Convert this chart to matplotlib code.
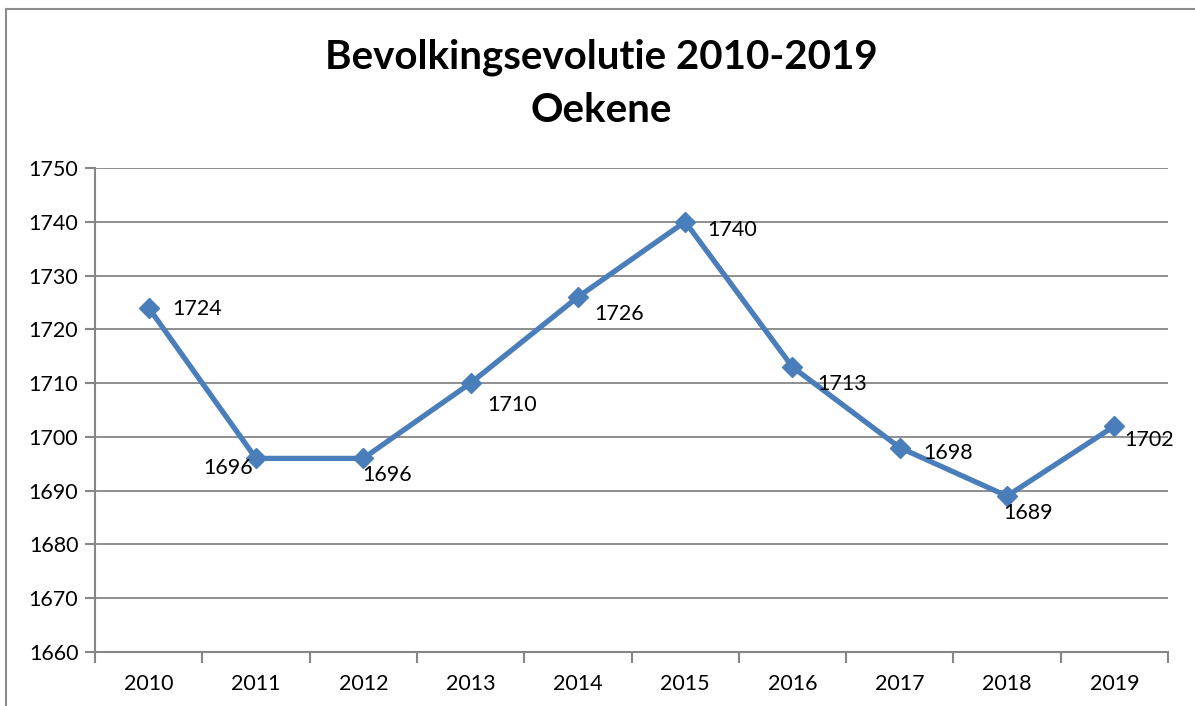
import matplotlib
matplotlib.use("Agg")
from matplotlib import pyplot as plt
from matplotlib.lines import Line2D

years = ['2010', '2011', '2012', '2013', '2014', '2015', '2016', '2017', '2018', '2019']
population = [1724, 1696, 1696, 1710, 1726, 1740, 1713, 1698, 1689, 1702]
y_ticks = [1660, 1670, 1680, 1690, 1700, 1710, 1720, 1730, 1740, 1750]

# label offsets in points (hand-placed like the original)
label_offsets = [(35, -1), (-20, -7), (17, -12), (30, -16), (30, -12), (34, -6),
                 (36, -12), (35, -4), (15, -12), (25, -10)]

plt.rcParams['font.family'] = ['Lato', 'DejaVu Sans']

fig = plt.figure(figsize=(11.95, 7.06), dpi=100)
ax = fig.add_axes([95 / 1195, 1 - 652 / 706, (1168 - 95) / 1195, (652 - 168) / 706])

x = list(range(len(years)))
ax.plot(x, population, color='#4a7ebb', linewidth=3.8, marker='D', markersize=10,
        markerfacecolor='#4a7ebb', markeredgecolor='#4a7ebb', zorder=3)

for xi, val, off in zip(x, population, label_offsets):
    ax.annotate(str(val), (xi, val), xytext=off, textcoords='offset points',
                ha='center', va='center', fontsize=15.5, color='black')

ax.set_xlim(-0.5, len(years) - 0.5)
ax.set_ylim(1660, 1750)
ax.set_yticks(y_ticks)
ax.set_yticklabels([str(t) for t in y_ticks])
ax.set_xticks([i - 0.5 for i in range(len(years) + 1)])
ax.set_xticklabels([])
ax.set_xticks(x, minor=True)
ax.set_xticklabels(years, minor=True)
ax.tick_params(axis='x', which='minor', length=0, pad=16, labelsize=15.5)
ax.tick_params(axis='x', which='major', length=8, color='#868686', width=1.5)
ax.tick_params(axis='y', length=7, color='#868686', width=1.5, pad=5, labelsize=15.5)

ax.grid(axis='y', color='#868686', linewidth=1.3)
ax.set_axisbelow(True)
for side in ['top', 'right']:
    ax.spines[side].set_visible(False)
for side in ['left', 'bottom']:
    ax.spines[side].set_color('#868686')
    ax.spines[side].set_linewidth(1.5)

fig.text(601 / 1195, 1 - 57 / 706, 'Bevolkingsevolutie 2010-2019', ha='center', va='center',
         fontsize=29, fontweight='bold')
fig.text(601 / 1195, 1 - 110 / 706, 'Oekene', ha='center', va='center',
         fontsize=29, fontweight='bold')

# outer chart border (only left and top visible in the crop)
fig.add_artist(Line2D([6 / 1195, 6 / 1195], [0, 1 - 9 / 706], color='#8c8c8c', linewidth=1.5,
                      transform=fig.transFigure))
fig.add_artist(Line2D([6 / 1195, 1], [1 - 9 / 706, 1 - 9 / 706], color='#8c8c8c', linewidth=1.5,
                      transform=fig.transFigure))

fig.savefig('out.png', dpi=100)
